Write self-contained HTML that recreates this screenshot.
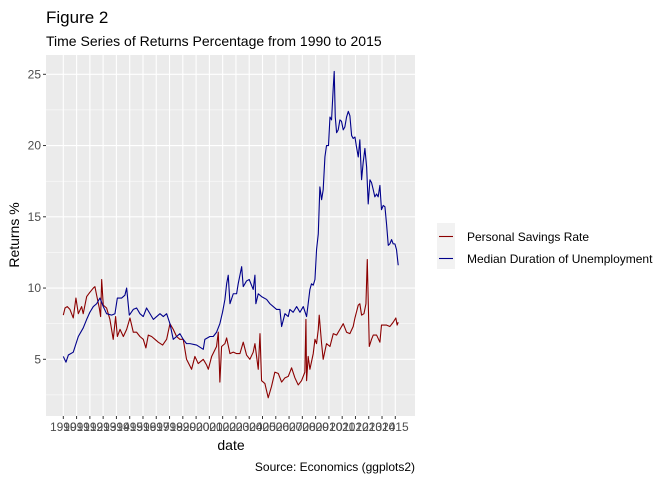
<!DOCTYPE html>
<html><head><meta charset="utf-8"><style>
body{margin:0;background:#fff;}
svg{display:block;font-family:"Liberation Sans",Arial,sans-serif;}
</style></head><body>
<svg id="chart" width="672" height="480">
<text x="46" y="23" font-size="17" fill="#000">Figure 2</text>
<text x="46" y="46" font-size="14" fill="#000">Time Series of Returns Percentage from 1990 to 2015</text>
<rect x="46" y="55" width="369" height="361" fill="#ebebeb"/>
<g id="grid"></g><g id="series"></g><g id="axes"></g>
<text transform="translate(19,235) rotate(-90)" text-anchor="middle" font-size="14" fill="#000">Returns %</text>
<text x="231" y="450" text-anchor="middle" font-size="14" fill="#000">date</text>
<text x="415" y="471" text-anchor="end" font-size="12" fill="#000">Source: Economics (ggplots2)</text>
<g>
<rect x="437" y="223" width="18" height="46" fill="#f2f2f2"/>
<line x1="439" y1="236.5" x2="453" y2="236.5" stroke="#8b0000" stroke-width="1.1"/>
<line x1="439" y1="258.5" x2="453" y2="258.5" stroke="#00008b" stroke-width="1.1"/>
<text x="467" y="241" font-size="12" fill="#000">Personal Savings Rate</text>
<text x="467" y="263" font-size="12" fill="#000">Median Duration of Unemployment</text>
</g>
</svg>
<script>
const NS="http://www.w3.org/2000/svg";
const yTicks=[5,10,15,20,25];
const xYears=[1990,1991,1992,1993,1994,1995,1996,1997,1998,1999,2000,2001,2002,2003,2004,2005,2006,2007,2008,2009,2010,2011,2012,2013,2014,2015];
const unempDates=[1990.0,1990.2,1990.38,1990.75,1991.13,1991.5,1991.76,1992.0,1992.26,1992.51,1992.76,1993.01,1993.26,1993.64,1993.89,1994.07,1994.39,1994.64,1994.77,1994.97,1995.27,1995.52,1995.77,1996.02,1996.27,1996.78,1997.28,1997.53,1997.78,1998.03,1998.28,1998.53,1998.78,1999.03,1999.28,1999.54,2000.04,2000.54,2000.66,2001.04,2001.29,2001.54,2001.79,2001.99,2002.17,2002.3,2002.42,2002.55,2002.8,2003.05,2003.17,2003.43,2003.55,2003.8,2004.0,2004.3,2004.43,2004.5,2004.68,2004.93,2005.31,2005.56,2005.81,2006.06,2006.31,2006.44,2006.69,2006.94,2007.06,2007.31,2007.57,2007.82,2008.07,2008.32,2008.44,2008.57,2008.69,2008.82,2008.95,2009.07,2009.2,2009.32,2009.45,2009.57,2009.7,2009.82,2009.97,2010.08,2010.2,2010.33,2010.4,2010.48,2010.58,2010.7,2010.83,2010.95,2011.08,2011.2,2011.33,2011.46,2011.58,2011.71,2011.83,2011.96,2012.08,2012.21,2012.33,2012.46,2012.58,2012.71,2012.84,2012.96,2013.09,2013.21,2013.34,2013.46,2013.59,2013.71,2013.84,2013.96,2014.09,2014.22,2014.34,2014.47,2014.59,2014.72,2014.84,2014.97,2015.09,2015.22];
const unempValues=[5.2,4.8,5.3,5.5,6.6,7.2,7.8,8.3,8.7,8.9,9.3,8.7,8.2,8.1,8.2,9.3,9.3,9.5,10.0,8.1,8.5,8.6,8.2,8.0,8.6,7.8,8.2,8.0,8.2,7.5,6.4,6.6,6.8,6.4,6.1,6.1,6.0,5.7,6.4,6.6,6.6,6.9,7.5,8.3,9.2,10.3,10.9,8.9,9.6,9.6,10.3,11.5,10.1,10.5,10.6,9.9,10.9,8.9,9.6,9.4,9.2,8.9,8.7,8.5,8.5,7.3,8.2,8.0,8.5,8.3,8.7,8.3,8.7,8.0,8.9,9.9,10.3,10.2,10.6,12.7,13.8,17.1,16.2,16.9,19.2,20.0,20.0,22.0,21.8,24.1,25.2,22.0,20.9,21.1,21.8,21.7,21.1,21.3,22.0,22.4,22.1,20.7,20.5,20.6,19.9,19.2,20.4,17.6,18.8,19.8,18.5,15.9,17.6,17.4,16.9,16.4,16.6,16.4,17.2,15.5,15.8,15.7,14.5,13.0,13.1,13.4,13.1,13.1,12.7,11.6];
const savingsDates=[1990.0,1990.13,1990.3,1990.5,1990.75,1990.95,1991.13,1991.38,1991.5,1991.76,1992.0,1992.26,1992.38,1992.51,1992.71,1992.81,1992.89,1993.01,1993.26,1993.51,1993.76,1993.94,1994.07,1994.27,1994.52,1994.77,1995.02,1995.27,1995.52,1995.77,1996.02,1996.22,1996.4,1996.65,1996.9,1997.15,1997.48,1997.78,1998.03,1998.28,1998.53,1998.78,1999.03,1999.28,1999.66,1999.91,2000.16,2000.54,2000.79,2000.92,2001.17,2001.54,2001.67,2001.79,2001.92,2002.17,2002.3,2002.55,2002.8,2003.05,2003.3,2003.55,2003.8,2004.05,2004.3,2004.43,2004.68,2004.81,2004.93,2005.18,2005.43,2005.68,2005.93,2006.19,2006.44,2006.69,2006.94,2007.19,2007.44,2007.69,2007.94,2008.19,2008.27,2008.32,2008.44,2008.57,2008.82,2008.95,2009.07,2009.2,2009.27,2009.45,2009.57,2009.82,2010.08,2010.33,2010.58,2010.83,2011.08,2011.33,2011.58,2011.83,2011.96,2012.21,2012.33,2012.46,2012.64,2012.79,2012.89,2012.96,2013.04,2013.21,2013.34,2013.59,2013.84,2013.96,2014.34,2014.59,2014.84,2015.04,2015.14,2015.22];
const savingsValues=[8.1,8.6,8.7,8.5,7.9,9.3,8.2,8.7,8.2,9.4,9.7,10.0,10.1,9.5,8.6,8.0,10.6,8.8,8.6,7.8,6.4,8.0,6.6,7.1,6.6,7.1,7.9,6.9,6.9,6.6,6.4,5.8,6.7,6.6,6.4,6.2,6.0,6.4,7.5,7.1,6.6,6.4,6.4,5.0,4.3,5.2,4.7,5.0,4.6,4.3,5.2,5.9,6.9,3.4,5.9,6.1,6.5,5.4,5.5,5.4,5.4,6.2,5.3,5.0,5.5,6.1,4.3,6.8,3.5,3.3,2.3,3.1,4.1,4.0,3.4,3.7,3.8,4.4,3.7,3.2,3.5,4.1,7.8,3.5,5.2,4.3,5.4,6.4,6.1,7.1,8.1,6.1,5.0,6.1,5.9,6.8,6.7,7.1,7.5,6.9,6.8,7.3,7.9,8.8,8.9,8.1,8.2,8.9,12.0,9.2,5.9,6.4,6.7,6.7,6.2,7.4,7.4,7.3,7.6,7.9,7.4,7.6];

const L=46,R=415,T=55,B=416;
function xs(t){return 63.3+(t-1990)*13.28;}
function ys(v){return 359.3-(v-5)*14.25;}
const grid=document.getElementById('grid'),axes=document.getElementById('axes'),series=document.getElementById('series');
function mk(tag,attrs,parent){const e=document.createElementNS(NS,tag);for(const k in attrs)e.setAttribute(k,attrs[k]);parent.appendChild(e);return e;}
// minor y grid
for(let i=0;i<yTicks.length-1;i++){
  const v=(yTicks[i]+yTicks[i+1])/2;
  const l=mk('line',{x1:L,x2:R,y1:ys(v),y2:ys(v),stroke:'#fff','stroke-width':0.5},grid);
  
  
}
{const l=mk('line',{x1:L,x2:R,y1:ys(2.5),y2:ys(2.5),stroke:'#fff','stroke-width':0.5},grid);

}
yTicks.forEach(v=>{
  const l=mk('line',{x1:L,x2:R,y1:ys(v),y2:ys(v),stroke:'#fff','stroke-width':1.1},grid);
  
  
  const tk=mk('line',{x1:L-3,x2:L,y1:ys(v),y2:ys(v),stroke:'#333','stroke-width':1},axes);
  
  
  const t=mk('text',{x:L-5,y:ys(v)+4,'text-anchor':'end','font-size':12,fill:'#4d4d4d'},axes);
  t.textContent=v;
  
  
});
xYears.forEach(yr=>{
  const l=mk('line',{x1:xs(yr),x2:xs(yr),y1:T,y2:B,stroke:'#fff','stroke-width':1.1},grid);
  
  
  const tk=mk('line',{x1:xs(yr),x2:xs(yr),y1:B,y2:B+3,stroke:'#333','stroke-width':1},axes);
  
  
  const t=mk('text',{x:xs(yr),y:B+15,'text-anchor':'middle','font-size':12,fill:'#4d4d4d'},axes);
  t.textContent=yr;
  
  
});
function line(d,v,color,name){
  const pts=d.map((t,i)=>xs(t).toFixed(2)+','+ys(v[i]).toFixed(2)).join(' ');
  const p=mk('polyline',{points:pts,fill:'none',stroke:color,'stroke-width':1.1,'stroke-linejoin':'round'},series);
  
  
}
line(savingsDates,savingsValues,'#8b0000','savings-rate-line');
line(unempDates,unempValues,'#00008b','unemployment-duration-line');
</script>
</body></html>
